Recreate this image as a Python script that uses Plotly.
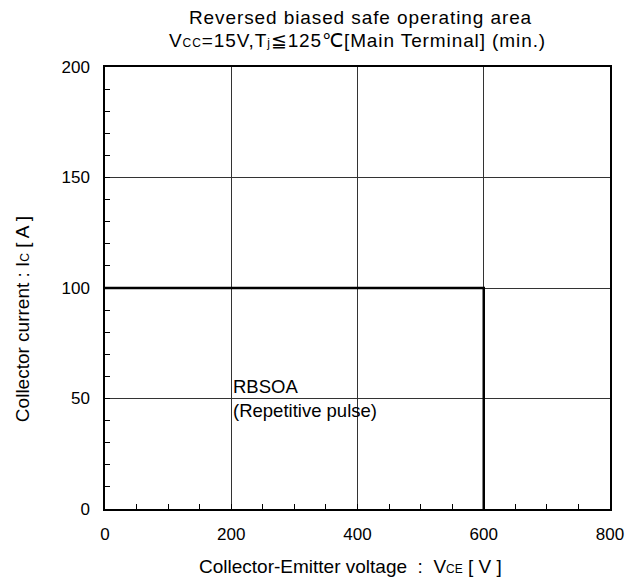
import plotly.graph_objects as go

vce = [0, 600, 600]
ic = [100, 100, 0]
x_ticks = [0, 200, 400, 600, 800]
y_ticks = [0, 50, 100, 150, 200]

S = "<span style='font-size:12px'>%s</span>"
LS = "<span style='letter-spacing:0.9px'>%s</span>"

fig = go.Figure()
fig.add_trace(go.Scatter(x=vce, y=ic, mode="lines",
                         line=dict(color="black", width=2.5), showlegend=False, hoverinfo="skip"))

fig.add_annotation(x=200, y=50, xref="x", yref="y", text="RBSOA<br>(Repetitive pulse)",
                   showarrow=False, xanchor="left", yanchor="middle", align="left",
                   font=dict(size=18.5, color="black"))

fig.add_annotation(x=0.505, y=1.113, xref="paper", yref="paper", text=LS % "Reversed biased safe operating area",
                   showarrow=False, xanchor="center", yanchor="middle", font=dict(size=19, color="black"))
fig.add_annotation(x=0.5, y=1.061, xref="paper", yref="paper",
                   text=LS % "V" + LS % (S % "CC") + LS % "=15V,T" + LS % (S % "j") + LS % "≦125℃[Main Terminal] (min.)",
                   showarrow=False, xanchor="center", yanchor="middle", font=dict(size=19, color="black"))

# axis titles
fig.add_annotation(x=0.487, y=-0.131, xref="paper", yref="paper",
                   text="Collector-Emitter voltage  :  V" + S % "CE" + " [ V ]",
                   showarrow=False, xanchor="center", yanchor="middle", font=dict(size=19, color="black"))
fig.add_annotation(x=-0.162, y=0.43, xref="paper", yref="paper", textangle=-90,
                   text="Collector current : I" + S % "C" + " [ A ]",
                   showarrow=False, xanchor="center", yanchor="middle", font=dict(size=19, color="black"))

font = "Liberation Sans, Arial, sans-serif"
fig.update_layout(
    width=636, height=577,
    margin=dict(l=97, r=34, t=59, b=76),
    plot_bgcolor="white", paper_bgcolor="white",
    font=dict(family=font, size=17, color="black"),
    xaxis=dict(range=[0, 800], tickvals=x_ticks, showgrid=True, gridcolor="#333", gridwidth=1,
               showline=True, linecolor="black", linewidth=1.5, mirror=True, zeroline=False,
               ticks="inside", ticklen=0, tickfont=dict(size=17), ticklabelstandoff=9,
               minor=dict(dtick=50, ticks="inside", ticklen=5, tickcolor="black", showgrid=False)),
    yaxis=dict(range=[0, 200], tickvals=y_ticks, showgrid=True, gridcolor="#333", gridwidth=1,
               showline=True, linecolor="black", linewidth=1.5, mirror=True, zeroline=False,
               ticks="inside", ticklen=0, tickfont=dict(size=17), ticklabelstandoff=10,
               minor=dict(dtick=10, ticks="inside", ticklen=5, tickcolor="black", showgrid=False)),
)
fig.write_html("out.html")
